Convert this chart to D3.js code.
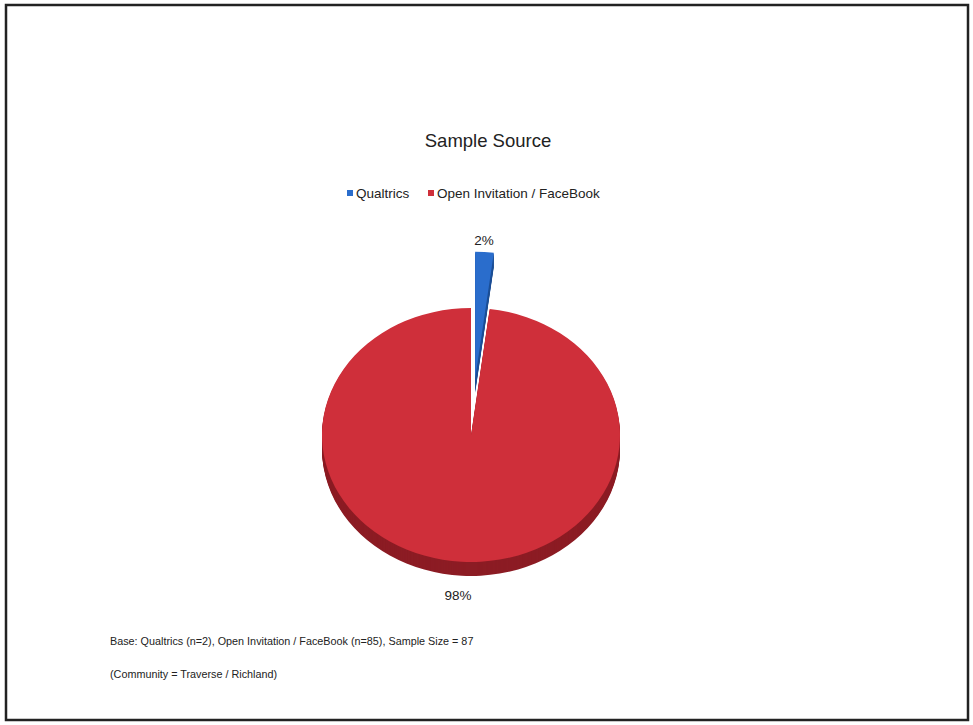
<!DOCTYPE html>
<html><head><meta charset="utf-8">
<script src="https://cdn.jsdelivr.net/npm/d3@7"></script>
<style>body{margin:0;background:#fff;} svg{display:block;font-family:"Liberation Sans",Arial,sans-serif;}</style>
</head><body>
<svg id="chart" width="973" height="725"></svg>
<script>
const categories = ["Qualtrics", "Open Invitation / FaceBook"];
const values = [2, 98];
const labels = ["2%", "98%"];
const colors = ["#2a6dcc", "#cf2f3a"];
const sideColors = ["#1d4f96", "#8c1c24"];
const title = "Sample Source";
const notes = ["Base: Qualtrics (n=2), Open Invitation / FaceBook (n=85), Sample Size = 87",
               "(Community = Traverse / Richland)"];

const svg = d3.select("#chart");
svg.append("rect").attr("x", 6).attr("y", 5).attr("width", 962).attr("height", 715)
  .attr("fill", "#fff").attr("stroke", "#222").attr("stroke-width", 2.5);

svg.append("text").attr("x", 488).attr("y", 147).attr("text-anchor", "middle")
  .attr("font-size", 18.5).attr("fill", "#222").text(title);

// legend
const legend = svg.append("g");
const legX = [347, 428];
categories.forEach((c, i) => {
  legend.append("rect").attr("x", legX[i]).attr("y", 190).attr("width", 6).attr("height", 6).attr("fill", colors[i]);
  legend.append("text").attr("x", legX[i] + 9).attr("y", 198).attr("font-size", 13.5).attr("fill", "#222").text(c);
});

const cx = 471, cy = 435, rx = 149, ry = 127, depth = 14;
const k = ry / rx;
const pie = d3.pie().sort(null).value(d => d)(values);
const arc = d3.arc().innerRadius(0).outerRadius(rx);
const explode = [66, 0];

const g = svg.append("g");
pie.forEach((p, i) => {
  const mid = (p.startAngle + p.endAngle) / 2;
  const ox = explode[i] * Math.sin(mid);
  const oy = -explode[i] * Math.cos(mid) * k;
  const sg = g.append("g");
  for (let d = depth; d > 0; d--) {
    sg.append("path").attr("d", arc(p))
      .attr("transform", `translate(${cx + ox},${cy + oy + d}) scale(1,${k})`)
      .attr("fill", sideColors[i]);
  }
  sg.append("path").attr("d", arc(p))
    .attr("transform", `translate(${cx + ox},${cy + oy}) scale(1,${k})`)
    .attr("fill", colors[i]);
});

// data labels
const labelPos = [[484, 245], [458, 600]];
labels.forEach((l, i) => {
  svg.append("text").attr("x", labelPos[i][0]).attr("y", labelPos[i][1]).attr("text-anchor", "middle")
    .attr("font-size", 13.5).attr("fill", "#222").text(l);
});

svg.append("text").attr("x", 110).attr("y", 645).attr("font-size", 10.8).attr("fill", "#222").text(notes[0]);
svg.append("text").attr("x", 110).attr("y", 678).attr("font-size", 10.8).attr("fill", "#222").text(notes[1]);
</script>
</body></html>
